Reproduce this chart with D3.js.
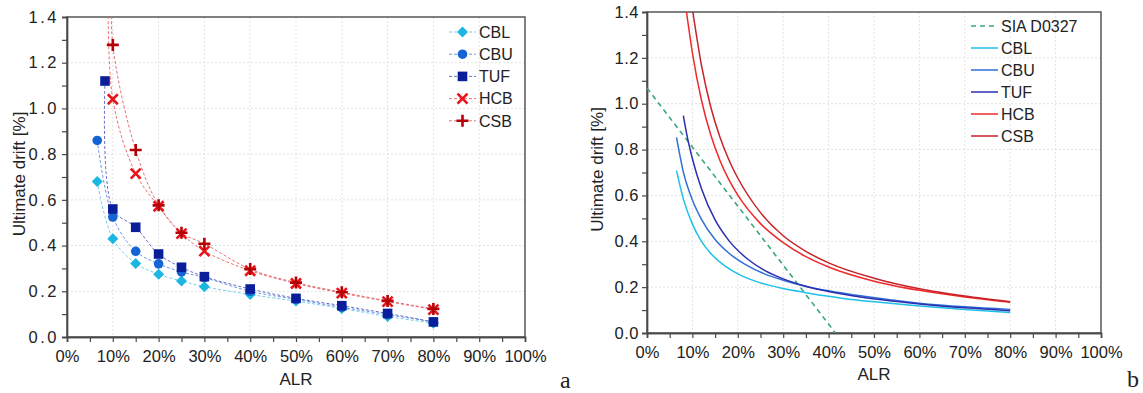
<!DOCTYPE html>
<html>
<head>
<meta charset="utf-8">
<script src="https://cdn.jsdelivr.net/npm/d3@7/dist/d3.min.js"></script>
<style>
  body { margin: 0; background: #fff; }
  svg text { font-family: "Liberation Sans", Arial, sans-serif; fill: #222; }
</style>
</head>
<body>
<svg id="chart" width="1143" height="393"></svg>
<script>
// axis ticks
const alrTicks = [0, 0.1, 0.2, 0.3, 0.4, 0.5, 0.6, 0.7, 0.8, 0.9, 1.0];
const alrMinor = [0.05, 0.15, 0.25, 0.35, 0.45, 0.55, 0.65, 0.75, 0.85, 0.95];
const driftTicks = [0, 0.2, 0.4, 0.6, 0.8, 1.0, 1.2, 1.4];
const driftMinor = [0.1, 0.3, 0.5, 0.7, 0.9, 1.1, 1.3];

// (a) test results [ALR, drift %]
const testCBL = [[0.066,0.68],[0.10,0.43],[0.15,0.322],[0.20,0.275],[0.25,0.245],[0.30,0.22],[0.40,0.186],[0.50,0.157],[0.60,0.125],[0.70,0.09],[0.80,0.06]];
const testCBU = [[0.066,0.86],[0.10,0.525],[0.15,0.375],[0.20,0.32],[0.25,0.285],[0.30,0.26],[0.40,0.20],[0.50,0.165],[0.60,0.13],[0.70,0.098],[0.80,0.066]];
const testTUF = [[0.083,1.12],[0.10,0.56],[0.15,0.48],[0.20,0.363],[0.25,0.305],[0.30,0.264],[0.40,0.21],[0.50,0.169],[0.60,0.137],[0.70,0.103],[0.80,0.066]];
const testHCB = [[0.09,1.6],[0.10,1.04],[0.15,0.715],[0.20,0.572],[0.25,0.452],[0.30,0.376],[0.40,0.29],[0.50,0.234],[0.60,0.192],[0.70,0.155],[0.80,0.12]];
const testCSB = [[0.098,1.6],[0.10,1.278],[0.15,0.818],[0.20,0.576],[0.25,0.456],[0.30,0.408],[0.40,0.297],[0.50,0.238],[0.60,0.196],[0.70,0.158],[0.80,0.123]];

// (b) model curves [ALR, drift %]
const sia = [[0, 1.068], [0.415, 0]];
const fitCBL = [[0.065,0.708],[0.08,0.585],[0.10,0.475],[0.12,0.40],[0.14,0.348],[0.17,0.295],[0.20,0.258],[0.24,0.225],[0.30,0.194],[0.35,0.176],[0.40,0.16],[0.45,0.146],[0.50,0.136],[0.60,0.118],[0.70,0.102],[0.80,0.089]];
const fitCBU = [[0.065,0.853],[0.08,0.703],[0.10,0.58],[0.12,0.496],[0.15,0.408],[0.18,0.349],[0.22,0.295],[0.26,0.257],[0.30,0.23],[0.35,0.203],[0.40,0.184],[0.47,0.162],[0.60,0.13],[0.70,0.114],[0.80,0.103]];
const fitTUF = [[0.08,0.948],[0.09,0.843],[0.10,0.76],[0.12,0.629],[0.15,0.493],[0.18,0.404],[0.22,0.325],[0.26,0.272],[0.30,0.236],[0.35,0.204],[0.40,0.181],[0.47,0.157],[0.60,0.127],[0.70,0.11],[0.80,0.097]];
const fitHCB = [[0.087,1.4],[0.10,1.222],[0.12,1.015],[0.14,0.867],[0.16,0.756],[0.18,0.67],[0.20,0.601],[0.25,0.477],[0.30,0.394],[0.35,0.333],[0.40,0.288],[0.50,0.226],[0.60,0.186],[0.70,0.157],[0.80,0.134]];
const fitCSB = [[0.101,1.4],[0.12,1.167],[0.14,0.989],[0.16,0.858],[0.18,0.757],[0.20,0.676],[0.25,0.525],[0.30,0.424],[0.35,0.356],[0.40,0.306],[0.50,0.239],[0.60,0.193],[0.70,0.161],[0.80,0.136]];

const svg = d3.select('#chart');

function panel(id, box, xLabelY, yLabelDx, ySpacing) {
  const x = d3.scaleLinear().domain([0, 1]).range([box.x0, box.x1]);
  const y = d3.scaleLinear().domain([0, 1.4]).range([box.y1, box.y0]);
  const g = svg.append('g').attr('class', 'panel-' + id);

  svg.append('clipPath').attr('id', 'clip-' + id)
    .append('rect').attr('x', box.x0).attr('y', box.y0)
    .attr('width', box.x1 - box.x0).attr('height', box.y1 - box.y0);

  // grid
  g.append('g').selectAll('line').data(alrTicks.slice(1, -1)).enter().append('line')
    .attr('x1', d => x(d)).attr('x2', d => x(d)).attr('y1', box.y0).attr('y2', box.y1)
    .attr('stroke', '#e2e2e2').attr('stroke-dasharray', '2,2');
  g.append('g').selectAll('line').data(driftTicks.slice(1, -1)).enter().append('line')
    .attr('y1', d => y(d)).attr('y2', d => y(d)).attr('x1', box.x0).attr('x2', box.x1)
    .attr('stroke', '#e2e2e2').attr('stroke-dasharray', '2,2');

  // frame
  g.append('rect').attr('x', box.x0).attr('y', box.y0)
    .attr('width', box.x1 - box.x0).attr('height', box.y1 - box.y0)
    .attr('fill', 'none').attr('stroke', '#4a4a4a').attr('stroke-width', 1.4);

  // axes
  g.append('g').attr('transform', 'translate(0,' + box.y1 + ')')
    .call(d3.axisBottom(x).tickValues(alrTicks).tickSize(5).tickPadding(8)
      .tickFormat(d => Math.round(d * 100) + '%'));
  g.append('g').attr('transform', 'translate(0,' + box.y1 + ')')
    .call(d3.axisBottom(x).tickValues(alrMinor).tickSize(5).tickFormat(''));
  const yAx = g.append('g').attr('transform', 'translate(' + box.x0 + ',0)')
    .call(d3.axisLeft(y).tickValues(driftTicks).tickSize(5).tickPadding(3)
      .tickFormat(d3.format('.1f')));
  g.append('g').attr('transform', 'translate(' + box.x0 + ',0)')
    .call(d3.axisLeft(y).tickValues(driftMinor).tickSize(5).tickFormat(''));
  g.selectAll('.domain').attr('stroke', '#4a4a4a').attr('stroke-width', 1.4);
  g.selectAll('.tick line').attr('stroke', '#4a4a4a').attr('stroke-width', 1.2);
  g.selectAll('.tick text').attr('font-size', 16.5).attr('fill', '#222');
  yAx.selectAll('.tick text').style('letter-spacing', ySpacing + 'px');

  g.append('text').attr('x', (box.x0 + box.x1) / 2).attr('y', xLabelY)
    .attr('text-anchor', 'middle').attr('font-size', 17).text('ALR');
  g.append('text')
    .attr('transform', 'translate(' + (box.x0 - yLabelDx) + ',' + ((box.y0 + box.y1) / 2 - 3) + ') rotate(-90)')
    .attr('text-anchor', 'middle').attr('font-size', 17).text('Ultimate drift [%]');

  return { x, y, g, clip: 'url(#clip-' + id + ')' };
}

// ---------- panel a ----------
const A = panel('a', { x0: 67, x1: 525, y0: 17, y1: 337 }, 385, 42, 2.5);

const seriesA = [
  { name: 'CBL', data: testCBL, color: '#1cb6e2', line: '#78cdee', shape: 'diamond' },
  { name: 'CBU', data: testCBU, color: '#1464d6', line: '#6e98e6', shape: 'circle' },
  { name: 'TUF', data: testTUF, color: '#0b1e9a', line: '#6a6fc6', shape: 'square' },
  { name: 'HCB', data: testHCB, color: '#e8141c', line: '#f07070', shape: 'cross' },
  { name: 'CSB', data: testCSB, color: '#b40006', line: '#e07474', shape: 'plus' }
];

function marker(sel, shape, color) {
  if (shape === 'diamond') {
    sel.append('path').attr('d', 'M0,-5.5L5.5,0L0,5.5L-5.5,0Z').attr('fill', color);
  } else if (shape === 'circle') {
    sel.append('circle').attr('r', 4.8).attr('fill', color);
  } else if (shape === 'square') {
    sel.append('rect').attr('x', -4.8).attr('y', -4.8).attr('width', 9.6).attr('height', 9.6).attr('fill', color);
  } else if (shape === 'cross') {
    sel.append('path').attr('d', 'M-5,-5L5,5M-5,5L5,-5').attr('stroke', color).attr('stroke-width', 2.6);
  } else {
    sel.append('path').attr('d', 'M-6,0L6,0M0,-6L0,6').attr('stroke', color).attr('stroke-width', 2.6);
  }
}

const lineA = d3.line().x(d => A.x(d[0])).y(d => A.y(d[1])).curve(d3.curveCatmullRom.alpha(0.5));
const plotA = A.g.append('g').attr('clip-path', A.clip);
seriesA.forEach(s => {
  plotA.append('path').datum(s.data).attr('d', lineA)
    .attr('fill', 'none').attr('stroke', s.line).attr('stroke-width', 1).attr('stroke-dasharray', '3,2');
});
seriesA.forEach(s => {
  plotA.append('g').selectAll('g').data(s.data).enter().append('g')
    .attr('transform', d => 'translate(' + A.x(d[0]) + ',' + A.y(d[1]) + ')')
    .each(function() { marker(d3.select(this), s.shape, s.color); });
});

// legend a
const legA = A.g.append('g');
seriesA.forEach((s, i) => {
  const ly = 32 + i * 22.2;
  legA.append('line').attr('x1', 449).attr('x2', 476).attr('y1', ly).attr('y2', ly)
    .attr('stroke', s.line).attr('stroke-width', 1).attr('stroke-dasharray', '3,2');
  marker(legA.append('g').attr('transform', 'translate(462.5,' + ly + ')'), s.shape, s.color);
  legA.append('text').attr('x', 479).attr('y', ly).attr('dy', '0.36em')
    .attr('font-size', 16).text(s.name);
});

svg.append('text').attr('x', 560).attr('y', 388).attr('font-size', 24)
  .style('font-family', '"Liberation Serif", "Times New Roman", serif').text('a');

// ---------- panel b ----------
const B = panel('b', { x0: 647, x1: 1101, y0: 12, y1: 333 }, 380, 44, 0.5);

const seriesB = [
  { name: 'SIA D0327', data: sia, color: '#3aa67a', dash: '5,4', width: 1.6 },
  { name: 'CBL', data: fitCBL, color: '#1ec0e8', width: 1.5 },
  { name: 'CBU', data: fitCBU, color: '#2f6fd6', width: 1.5 },
  { name: 'TUF', data: fitTUF, color: '#2b2fb0', width: 1.5 },
  { name: 'HCB', data: fitHCB, color: '#ee2a2a', width: 1.5 },
  { name: 'CSB', data: fitCSB, color: '#c8222a', width: 1.5 }
];

const lineB = d3.line().x(d => B.x(d[0])).y(d => B.y(d[1])).curve(d3.curveMonotoneX);
const plotB = B.g.append('g').attr('clip-path', B.clip);
seriesB.forEach(s => {
  plotB.append('path').datum(s.data).attr('d', lineB)
    .attr('fill', 'none').attr('stroke', s.color).attr('stroke-width', s.width)
    .attr('stroke-dasharray', s.dash || null);
});

const legB = B.g.append('g');
seriesB.forEach((s, i) => {
  const ly = 26 + i * 22;
  legB.append('line').attr('x1', 971).attr('x2', 998).attr('y1', ly).attr('y2', ly)
    .attr('stroke', s.color).attr('stroke-width', s.width).attr('stroke-dasharray', s.dash || null);
  legB.append('text').attr('x', 1001).attr('y', ly).attr('dy', '0.36em')
    .attr('font-size', 16).text(s.name);
});

svg.append('text').attr('x', 1127).attr('y', 387).attr('font-size', 24)
  .style('font-family', '"Liberation Serif", "Times New Roman", serif').text('b');
</script>
</body>
</html>
